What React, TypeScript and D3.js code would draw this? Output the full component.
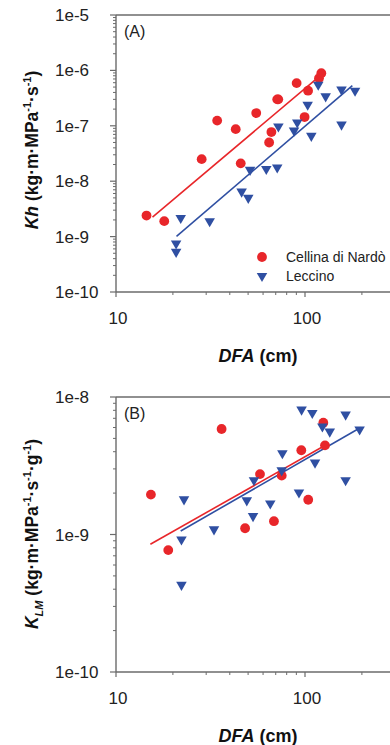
import * as d3 from "d3";

// Panel A: hydraulic conductance Kh vs distance from apex
const cellinaDfaA = [14.5, 18, 28.4, 34.3, 43, 45.7, 55.2, 64.6, 66.4, 71.3, 72.2, 90.3, 99.5, 103.8, 118.6, 122];
const cellinaKh = [2.4e-9, 1.9e-9, 2.5e-8, 1.24e-7, 8.7e-8, 2.1e-8, 1.7e-7, 5.0e-8, 7.7e-8, 3.0e-7, 3.0e-7, 5.9e-7, 1.44e-7, 4.3e-7, 7.2e-7, 8.9e-7];
const leccinoDfaA = [20.8, 20.8, 22, 31.3, 46.2, 50.1, 51.2, 62.4, 71.3, 72.3, 87.5, 91, 103.3, 108, 117.5, 128.6, 156, 156, 184];
const leccinoKh = [7.5e-10, 5.3e-10, 2.17e-9, 1.89e-9, 6.5e-9, 5.0e-9, 1.6e-8, 1.66e-8, 1.77e-8, 9.7e-8, 8.2e-8, 1.15e-7, 2.4e-7, 6.6e-8, 5.5e-7, 3.4e-7, 4.5e-7, 1.05e-7, 4.3e-7];

// Panel B: leaf-mass specific conductance
const cellinaDfaB = [15.3, 18.9, 36.2, 48.2, 57.8, 68.5, 75.3, 95.6, 104, 125, 127.6];
const cellinaKlm = [1.95e-9, 7.7e-10, 5.85e-9, 1.11e-9, 2.75e-9, 1.25e-9, 2.68e-9, 4.1e-9, 1.79e-9, 6.5e-9, 4.45e-9];
const leccinoDfaB = [22.2, 22.2, 22.9, 33, 49.2, 53.1, 53.7, 65.5, 75.3, 75.9, 92.9, 95.9, 109.3, 113, 123.6, 135.2, 164, 164, 194.5];
const leccinoKlm = [4.3e-10, 9.2e-10, 1.8e-9, 1.09e-9, 1.77e-9, 1.36e-9, 2.48e-9, 1.68e-9, 2.93e-9, 3.9e-9, 2.02e-9, 8.1e-9, 7.65e-9, 3.33e-9, 6.1e-9, 5.6e-9, 7.45e-9, 2.48e-9, 5.8e-9];

// regression lines (endpoints)
const cellinaFitA: [number, number][] = [[15.6, 2.24e-9], [119.6, 7.9e-7]];
const leccinoFitA: [number, number][] = [[20.9, 1.01e-9], [178, 5.3e-7]];
const cellinaFitB: [number, number][] = [[15.2, 8.5e-10], [126, 4.4e-9]];
const leccinoFitB: [number, number][] = [[22, 1.06e-9], [197, 6.0e-9]];

const xTickLabels = [10, 100];
const seriesNames = ["Cellina di Nardò", "Leccino"];

const RED = "#e8262a";
const BLUE = "#2f4fa2";
const AXIS = "#6b6b6b";
const FONT = "'Liberation Sans', Arial, sans-serif";

const tri = d3.symbol(d3.symbolTriangle, 48)()!;

interface PanelProps {
  top: number;
  bottom: number;
  yMin: number;
  yMax: number;
  tag: string;
  redX: number[];
  redY: number[];
  blueX: number[];
  blueY: number[];
  redFit: [number, number][];
  blueFit: [number, number][];
  yLabel: JSX.Element;
  legend?: boolean;
}

function Panel(p: PanelProps) {
  const x = d3.scaleLog().domain([10, 1000]).range([116, 494]);
  const y = d3.scaleLog().domain([p.yMin, p.yMax]).range([p.bottom, p.top]);
  const line = d3
    .line<[number, number]>()
    .x((d) => x(d[0]))
    .y((d) => y(d[1]));

  const yMajors: number[] = [];
  const yMinors: number[] = [];
  for (let e = Math.round(Math.log10(p.yMin)); e <= Math.round(Math.log10(p.yMax)); e++) {
    yMajors.push(Math.pow(10, e));
    if (e < Math.round(Math.log10(p.yMax))) {
      for (let k = 2; k <= 9; k++) yMinors.push(k * Math.pow(10, e));
    }
  }
  const xMinors = [20, 30, 40, 50, 60, 70, 80, 90, 200, 300];
  const x0 = x(10);

  return (
    <g fontFamily={FONT}>
      {/* frame */}
      <line x1={x0} x2={400} y1={p.top} y2={p.top} stroke={AXIS} strokeWidth={1.6} />
      <line x1={x0} x2={400} y1={p.bottom} y2={p.bottom} stroke={AXIS} strokeWidth={1.4} />
      <line x1={x0} x2={x0} y1={p.top} y2={p.bottom} stroke={AXIS} strokeWidth={1.4} />

      {yMajors.map((v) => (
        <g key={"ym" + v}>
          <line x1={x0 - 6} x2={x0} y1={y(v)} y2={y(v)} stroke={AXIS} strokeWidth={1.2} />
          <text x={55} y={y(v) + 6} fontSize={17} fill="#222">
            {"1e" + Math.round(Math.log10(v))}
          </text>
        </g>
      ))}
      {yMinors.map((v) => (
        <line key={"yn" + v} x1={x0 - 3} x2={x0} y1={y(v)} y2={y(v)} stroke={AXIS} strokeWidth={1} />
      ))}
      {xTickLabels.map((v) => (
        <g key={"xm" + v}>
          <line x1={x(v)} x2={x(v)} y1={p.bottom} y2={p.bottom + 5} stroke={AXIS} strokeWidth={1.2} />
          <text x={x(v) + 2} y={p.bottom + 32} fontSize={17} textAnchor="middle" fill="#222">
            {v}
          </text>
        </g>
      ))}
      {xMinors.map((v) => (
        <line key={"xn" + v} x1={x(v)} x2={x(v)} y1={p.bottom} y2={p.bottom + 3} stroke={AXIS} strokeWidth={1} />
      ))}

      <text x={258} y={p.bottom + 70} fontSize={18} fontWeight="bold" textAnchor="middle" fill="#111">
        <tspan fontStyle="italic">DFA</tspan> (cm)
      </text>
      {p.yLabel}

      <text x={x0 + 8} y={p.top + 22} fontSize={16} fill="#222">
        {p.tag}
      </text>

      <path d={line(p.redFit)!} stroke={RED} strokeWidth={1.6} fill="none" />
      <path d={line(p.blueFit)!} stroke={BLUE} strokeWidth={1.6} fill="none" />

      {p.redX.map((v, i) => (
        <circle key={"r" + i} cx={x(v)} cy={y(p.redY[i])} r={4.9} fill={RED} />
      ))}
      {p.blueX.map((v, i) => (
        <path key={"b" + i} d={tri} transform={`translate(${x(v)},${y(p.blueY[i])}) rotate(180)`} fill={BLUE} />
      ))}

      {p.legend && (
        <g>
          <circle cx={262} cy={257} r={4.9} fill={RED} />
          <text x={286} y={262} fontSize={14} fill="#222">
            {seriesNames[0]}
          </text>
          <path d={tri} transform="translate(262,276) rotate(180)" fill={BLUE} />
          <text x={286} y={281} fontSize={14} fill="#222">
            {seriesNames[1]}
          </text>
        </g>
      )}
    </g>
  );
}

export default function App() {
  const labelA = (
    <text
      transform="translate(38,150) rotate(-90)"
      textAnchor="middle"
      fontSize={17.5}
      fontWeight="bold"
      fill="#111"
    >
      <tspan fontStyle="italic">Kh</tspan> (kg·m·MPa
      <tspan fontSize={11} dy={-7}>-1</tspan>
      <tspan dy={7}>·s</tspan>
      <tspan fontSize={11} dy={-7}>-1</tspan>
      <tspan dy={7}>)</tspan>
    </text>
  );
  const labelB = (
    <text
      transform="translate(38,534) rotate(-90)"
      textAnchor="middle"
      fontSize={17.5}
      fontWeight="bold"
      fill="#111"
    >
      <tspan fontStyle="italic">K</tspan>
      <tspan fontSize={11} fontStyle="italic" dy={5}>LM</tspan>
      <tspan dy={-5}> (kg·m·MPa</tspan>
      <tspan fontSize={11} dy={-7}>-1</tspan>
      <tspan dy={7}>·s</tspan>
      <tspan fontSize={11} dy={-7}>-1</tspan>
      <tspan dy={7}>·g</tspan>
      <tspan fontSize={11} dy={-7}>-1</tspan>
      <tspan dy={7}>)</tspan>
    </text>
  );

  return (
    <div style={{ position: "absolute", left: 0, top: 0 }}>
      <svg width={390} height={745} style={{ display: "block", background: "#fff" }}>
        <Panel
          top={15}
          bottom={292}
          yMin={1e-10}
          yMax={1e-5}
          tag="(A)"
          redX={cellinaDfaA}
          redY={cellinaKh}
          blueX={leccinoDfaA}
          blueY={leccinoKh}
          redFit={cellinaFitA}
          blueFit={leccinoFitA}
          yLabel={labelA}
          legend
        />
        <Panel
          top={397}
          bottom={672}
          yMin={1e-10}
          yMax={1e-8}
          tag="(B)"
          redX={cellinaDfaB}
          redY={cellinaKlm}
          blueX={leccinoDfaB}
          blueY={leccinoKlm}
          redFit={cellinaFitB}
          blueFit={leccinoFitB}
          yLabel={labelB}
        />
      </svg>
    </div>
  );
}
